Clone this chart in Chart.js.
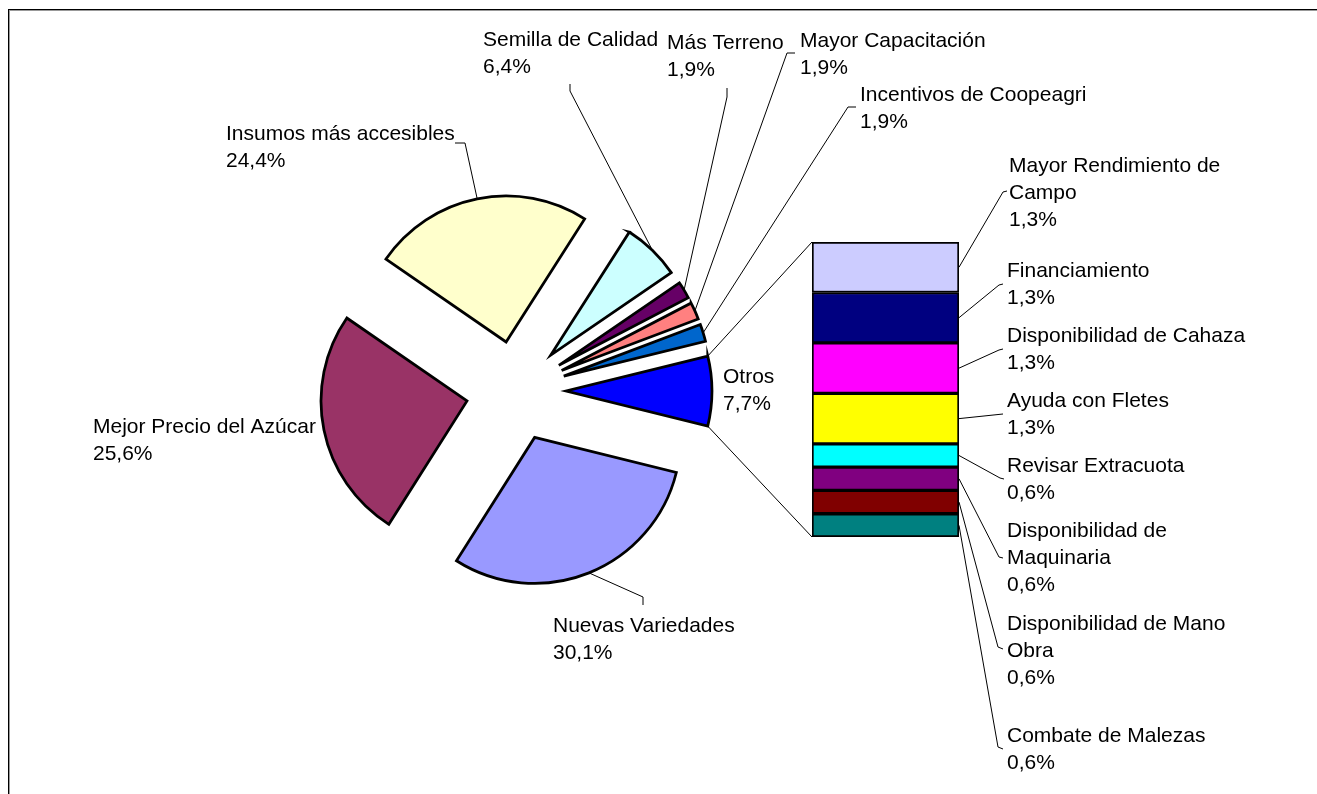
<!DOCTYPE html>
<html>
<head>
<meta charset="utf-8">
<script src="https://cdn.jsdelivr.net/npm/chart.js@4/dist/chart.umd.min.js"></script>
<style>
html, body { margin: 0; padding: 0; background: #fff; overflow: hidden; }
#wrap { position: relative; width: 1317px; height: 794px; }
canvas { position: absolute; left: 0; top: 0; }
#frame { position: absolute; left: 8px; top: 9px; width: 1400px; height: 900px;
  border-left: 1px solid #000; border-top: 1px solid #000; box-shadow: inset 1px 1px 0 #999; }
</style>
</head>
<body>
<div id="wrap">
  <div id="frame"></div>
  <canvas id="bar" width="1317" height="794"></canvas>
  <canvas id="pie" width="1317" height="794"></canvas>
</div>
<script>
// main pie, clockwise starting lower right
const pieLabels = ['Nuevas Variedades', 'Mejor Precio del Azúcar', 'Insumos más accesibles', 'Semilla de Calidad',
                   'Más Terreno', 'Mayor Capacitación', 'Incentivos de Coopeagri', 'Otros'];
const pieValues = [30.1, 25.6, 24.4, 6.4, 1.9, 1.9, 1.9, 7.7];
const pieColors = ['#9999FF', '#993366', '#FFFFCC', '#CCFFFF', '#660066', '#FF8080', '#0066CC', '#0000FF'];

// "Otros" split up in the bar, bottom segment first
const barLabels = [['Combate de Malezas'], ['Disponibilidad de Mano', 'Obra'], ['Disponibilidad de', 'Maquinaria'],
                   ['Revisar Extracuota'], ['Ayuda con Fletes'], ['Disponibilidad de Cahaza'], ['Financiamiento'],
                   ['Mayor Rendimiento de', 'Campo']];
const barValues = [0.6, 0.6, 0.6, 0.6, 1.3, 1.3, 1.3, 1.3];
const barColors = ['#008080', '#800000', '#800080', '#00FFFF', '#FFFF00', '#FF00FF', '#000080', '#CCCCFF'];

// hand placed labels, like excel does (x, first baseline, leader bends)
const pieLabelPos = [
    {x: 553, y: 632, leader: [[643, 597], [643, 605]]},
    {x: 93,  y: 433},
    {x: 226, y: 140, leader: [[465, 143], [455, 143]]},
    {x: 483, y: 46,  leader: [[570, 91], [570, 84]]},
    {x: 667, y: 49,  leader: [[727, 97], [727, 88]]},
    {x: 800, y: 47,  leader: [[787, 53], [795, 53]]},
    {x: 860, y: 101, leader: [[848, 107], [856, 107]]},
    {x: 723, y: 383}
];
const barLabelPos = [
    {x: 1007, y: 742, leader: [[998, 747], [1003, 749]]},
    {x: 1007, y: 630, leader: [[998, 647], [1003, 649]]},
    {x: 1007, y: 537, leader: [[999, 557], [1003, 558]]},
    {x: 1007, y: 472, leader: [[1000, 478], [1004, 479]]},
    {x: 1007, y: 407, leader: [[1003, 414]]},
    {x: 1007, y: 342, leader: [[999, 350], [1003, 349]]},
    {x: 1007, y: 277, leader: [[999, 285], [1003, 284]]},
    {x: 1009, y: 172, leader: [[1003, 192], [1007, 191]]}
];

const EXPLODE = 50;
const LINE_H = 27;
const FONT = '21px "Liberation Sans", Arial, sans-serif';

function pct(v){
    return v.toFixed(1).replace('.', ',') + '%';
}

function drawLabel(ctx, lines, pos){
    ctx.fillStyle = '#000';
    ctx.font = FONT;
    ctx.textAlign = 'left';
    ctx.textBaseline = 'alphabetic';
    lines.forEach((t, i) => ctx.fillText(t, pos.x, pos.y + i * LINE_H));
}

function drawLeader(ctx, from, pts){
    if(!pts) return;
    ctx.beginPath();
    ctx.moveTo(from[0], from[1]);
    pts.forEach(p => ctx.lineTo(p[0], p[1]));
    ctx.stroke();
}

const barChart = new Chart(document.getElementById('bar'), {
    type: 'bar',
    data: {
        labels: ['Otros'],
        datasets: barValues.map((v, i) => ({
            label: barLabels[i].join(' '),
            data: [v],
            backgroundColor: barColors[i],
            borderColor: '#000',
            borderWidth: 2,
            borderSkipped: false,
            barPercentage: 1,
            categoryPercentage: 1
        }))
    },
    options: {
        responsive: false,
        animation: false,
        events: [],
        layout: {padding: {left: 812, right: 358, top: 242, bottom: 257}},
        scales: {
            x: {stacked: true, display: false},
            y: {stacked: true, display: false, min: 0, max: barValues.reduce((a, b) => a + b, 0)}
        },
        plugins: {legend: {display: false}, tooltip: {enabled: false}}
    }
});

// pull the slices out and draw labels, leaders and the link to the bar
const pieExtras = {
    id: 'pieExtras',
    beforeDatasetsDraw(chart){
        const area = chart.chartArea;
        const cx = (area.left + area.right) / 2;
        const cy = (area.top + area.bottom) / 2;
        chart.getDatasetMeta(0).data.forEach(arc => {
            const mid = (arc.startAngle + arc.endAngle) / 2;
            arc.x = cx + Math.cos(mid) * EXPLODE;
            arc.y = cy + Math.sin(mid) * EXPLODE;
        });
    },
    afterDraw(chart){
        const ctx = chart.ctx;
        ctx.save();
        ctx.strokeStyle = '#000';
        ctx.lineWidth = 1;

        const arcs = chart.getDatasetMeta(0).data;
        arcs.forEach((arc, i) => {
            const mid = (arc.startAngle + arc.endAngle) / 2;
            const r = arc.outerRadius;
            drawLeader(ctx, [arc.x + Math.cos(mid) * r, arc.y + Math.sin(mid) * r], pieLabelPos[i].leader);
            drawLabel(ctx, [pieLabels[i], pct(pieValues[i])], pieLabelPos[i]);
        });

        // otros -> bar
        const otros = arcs[arcs.length - 1];
        const top = barChart.getDatasetMeta(barValues.length - 1).data[0];
        const bottom = barChart.getDatasetMeta(0).data[0];
        const r = otros.outerRadius;
        ctx.beginPath();
        ctx.moveTo(otros.x + Math.cos(otros.startAngle) * r, otros.y + Math.sin(otros.startAngle) * r);
        ctx.lineTo(top.x - top.width / 2, top.y);
        ctx.moveTo(otros.x + Math.cos(otros.endAngle) * r, otros.y + Math.sin(otros.endAngle) * r);
        ctx.lineTo(bottom.x - bottom.width / 2, bottom.base);
        ctx.stroke();

        barValues.forEach((v, i) => {
            const seg = barChart.getDatasetMeta(i).data[0];
            drawLeader(ctx, [seg.x + seg.width / 2, (seg.y + seg.base) / 2], barLabelPos[i].leader);
            drawLabel(ctx, barLabels[i].concat(pct(v)), barLabelPos[i]);
        });
        ctx.restore();
    }
};

new Chart(document.getElementById('pie'), {
    type: 'pie',
    data: {
        labels: pieLabels,
        datasets: [{
            data: pieValues,
            backgroundColor: pieColors,
            borderColor: '#000',
            borderWidth: 2.75,
            borderJoinStyle: 'miter',
            radius: 146
        }]
    },
    options: {
        responsive: false,
        animation: false,
        events: [],
        rotation: 103.9,
        layout: {padding: {left: 0, right: 285, top: 0, bottom: 12}},
        plugins: {legend: {display: false}, tooltip: {enabled: false}}
    },
    plugins: [pieExtras]
});
</script>
</body>
</html>
